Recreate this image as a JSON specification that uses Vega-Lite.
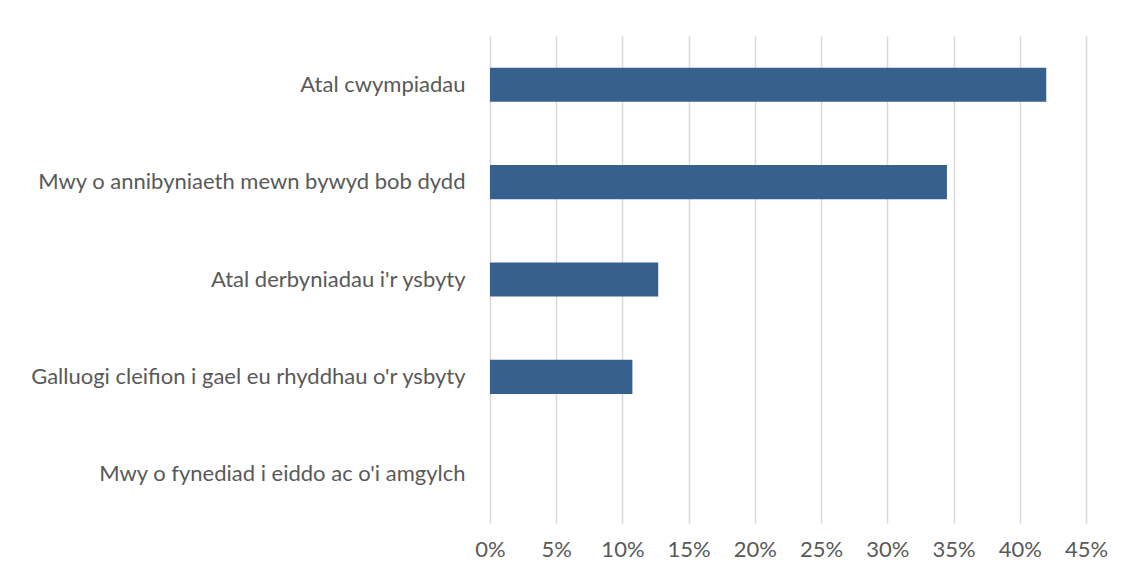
{
  "$schema": "https://vega.github.io/schema/vega-lite/v6.json",
  "width": 596,
  "height": 487,
  "autosize": {"type": "none"},
  "padding": {"left": 490, "top": 36, "right": 43, "bottom": 57},
  "background": "white",
  "config": {
    "view": {"stroke": null},
    "font": "Lato"
  },
  "data": {
    "values": [
      {"category": "Atal cwympiadau", "value": 0.42},
      {"category": "Mwy o annibyniaeth mewn bywyd bob dydd", "value": 0.345},
      {"category": "Atal derbyniadau i'r ysbyty", "value": 0.127},
      {"category": "Galluogi cleifion i gael eu rhyddhau o'r ysbyty", "value": 0.1075},
      {"category": "Mwy o fynediad i eiddo ac o'i amgylch", "value": 0}
    ]
  },
  "mark": {"type": "bar", "color": "#36618F"},
  "encoding": {
    "y": {
      "field": "category",
      "type": "nominal",
      "sort": null,
      "scale": {"paddingInner": 0.65, "paddingOuter": 0.325},
      "axis": {
        "title": null,
        "domain": false,
        "ticks": false,
        "labelFontSize": 22,
        "labelColor": "#595959",
        "labelPadding": 25,
        "labelLimit": 500,
        "labelFont": "Lato"
      }
    },
    "x": {
      "field": "value",
      "type": "quantitative",
      "scale": {"domain": [0, 0.45], "nice": false},
      "axis": {
        "title": null,
        "format": ".0%",
        "values": [0, 0.05, 0.1, 0.15, 0.2, 0.25, 0.3, 0.35, 0.4, 0.45],
        "domain": false,
        "ticks": false,
        "grid": true,
        "gridColor": "#D9D9D9",
        "gridWidth": 1.5,
        "labelFlush": false,
        "labelOverlap": false,
        "labelFontSize": 22,
        "labelColor": "#595959",
        "labelPadding": 16,
        "labelFont": "Lato"
      }
    }
  }
}
